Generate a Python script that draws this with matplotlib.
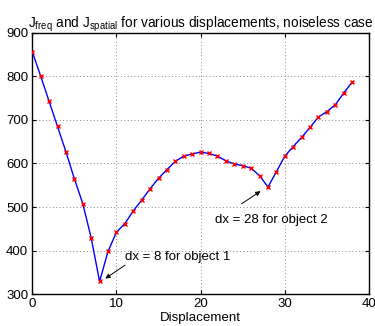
import matplotlib
matplotlib.use("Agg")
import matplotlib.pyplot as plt
import numpy as np

displacement = list(range(0, 39))
cost = [857, 801, 743, 685, 627, 565, 508, 429, 329, 398,
        442, 462, 491, 516, 542, 566, 586, 605, 617, 622,
        626, 623, 617, 606, 599, 595, 589, 572, 546, 581,
        617, 639, 660, 683, 707, 719, 735, 762, 787]
x_ticks = [0, 10, 20, 30, 40]
y_ticks = [300, 400, 500, 600, 700, 800, 900]

plt.rcParams['font.family'] = ['Liberation Sans', 'DejaVu Sans']
plt.rcParams['mathtext.fontset'] = 'custom'
plt.rcParams['mathtext.rm'] = 'Liberation Sans'

fig = plt.figure(figsize=(3.75, 3.26), dpi=100)
ax = fig.add_axes([0.086, 0.098, 0.898, 0.801])

ax.plot(displacement, cost, '-', color='#0000ff', lw=1.0, zorder=3)
ax.plot(displacement, cost, 'x', color='#ff0000', ms=3.5, mew=1.0, zorder=4)

ax.set_xlim(0, 40)
ax.set_ylim(300, 900)
ax.set_xticks(x_ticks)
ax.set_yticks(y_ticks)
ax.tick_params(direction='in', length=3, width=0.8, labelsize=9.5, top=True, right=True, pad=3)
ax.grid(True, linestyle=(0, (1, 2.5)), color='#888888', lw=0.7)
for s in ax.spines.values():
    s.set_linewidth(1.0)

ax.set_title(r'$\mathregular{J_{freq}}$ and $\mathregular{J_{spatial}}$ for various displacements, noiseless case',
             fontsize=9.8, pad=4)
ax.set_xlabel('Displacement', fontsize=9.6, labelpad=1.5)

ax.annotate('', xy=(8.4, 332), xytext=(11.3, 370),
            arrowprops=dict(arrowstyle='-|>', color='black', lw=0.7, mutation_scale=7))
ax.text(11.0, 386, 'dx = 8 for object 1', fontsize=9.5, ha='left', va='center')
ax.annotate('', xy=(27.4, 540), xytext=(24.6, 504),
            arrowprops=dict(arrowstyle='-|>', color='black', lw=0.7, mutation_scale=7))
ax.text(21.7, 470, 'dx = 28 for object 2', fontsize=9.5, ha='left', va='center')

fig.savefig('out.png', dpi=100)
